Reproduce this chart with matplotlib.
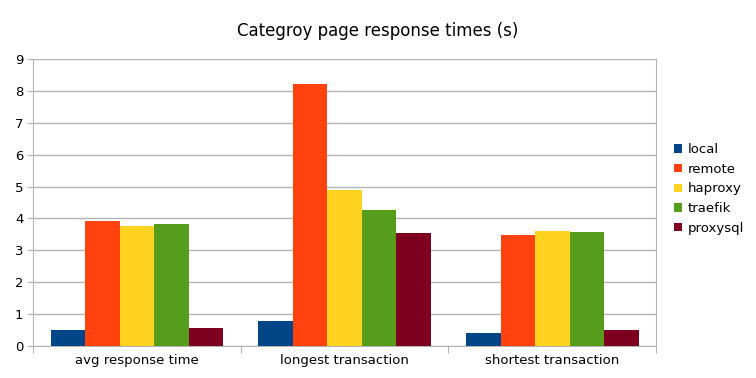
import numpy as np
import matplotlib
matplotlib.use("Agg")
import matplotlib.pyplot as plt

# data
categories = ["avg response time", "longest transaction", "shortest transaction"]
series = ["local", "remote", "haproxy", "traefik", "proxysql"]
local = [0.50, 0.79, 0.42]
remote = [3.92, 8.20, 3.48]
haproxy = [3.76, 4.90, 3.60]
traefik = [3.82, 4.27, 3.57]
proxysql = [0.56, 3.53, 0.49]

colors = ["#004586", "#ff420e", "#ffd320", "#579d1c", "#7e0021"]
values = [local, remote, haproxy, traefik, proxysql]

fig = plt.figure(figsize=(7.56, 3.78), dpi=100)
ax = fig.add_axes([0.0437, 0.0847, 0.8243, 0.7593])

x = np.arange(len(categories))
w = 0.166
for i, (name, vals) in enumerate(zip(series, values)):
    ax.bar(x + (i - 2) * w, vals, w, color=colors[i], label=name, zorder=3)

ax.set_xlim(-0.5, 2.5)
ax.set_ylim(0, 9)
ax.set_yticks(range(10))
ax.yaxis.grid(True, color="#b3b3b3", linewidth=1, zorder=0)

# category labels centred, tick marks at group boundaries
ax.set_xticks([-0.5, 0.5, 1.5, 2.5])
ax.set_xticklabels([])
ax.set_xticks(x, minor=True)
ax.set_xticklabels(categories, minor=True)
ax.tick_params(axis="x", which="minor", length=0, pad=6, labelsize=9.5)
ax.tick_params(axis="x", which="major", length=5, color="#b3b3b3")
ax.tick_params(axis="y", length=4, color="#b3b3b3", labelsize=9.5, pad=3)

for s in ["left", "right", "bottom"]:
    ax.spines[s].set_color("#b3b3b3")
ax.spines["top"].set_visible(False)

fig.suptitle("Categroy page response times (s)", y=0.943, fontsize=12)

ax.legend(loc="center left", bbox_to_anchor=(1.01, 0.547), frameon=False,
          fontsize=9.5, handlelength=0.6, handleheight=0.6, handletextpad=0.4,
          labelspacing=0.5)

fig.savefig("out.png", dpi=100)
